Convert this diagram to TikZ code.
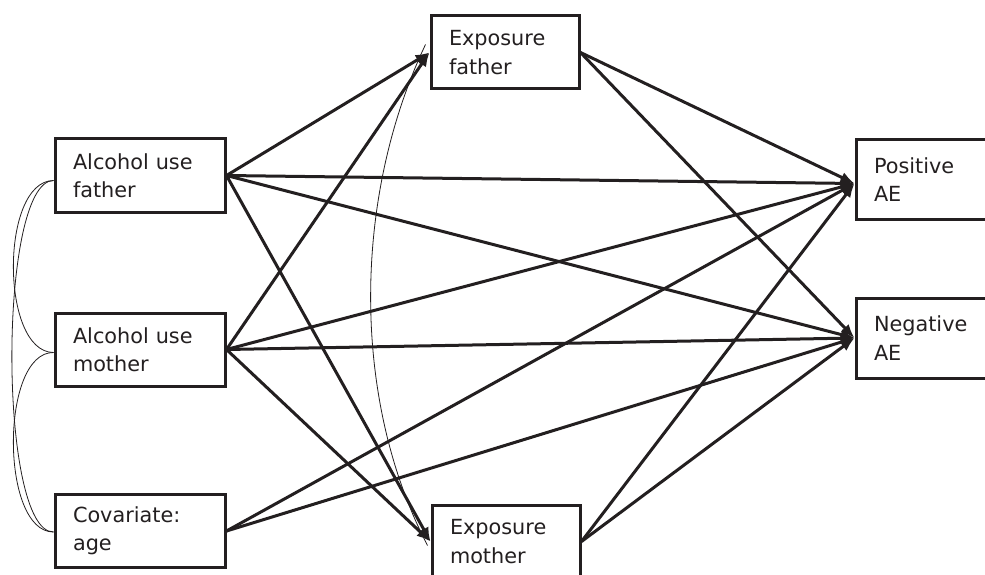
\documentclass[tikz,border=0pt]{standalone}
\usepackage{fontspec}
\setmainfont{DejaVu Sans}
\usetikzlibrary{arrows.meta}
\definecolor{ink}{HTML}{231F20}
\tikzset{
  box/.style={draw=ink, text=ink, line width=3pt, minimum height=73pt, inner xsep=18pt, inner ysep=0pt,
    align=left, font=\fontsize{20.8}{28.5}\selectfont},
  wbox/.style={box, minimum width=170pt, text width=134pt},
  nbox/.style={box, minimum width=148pt, text width=112pt},
  path/.style={draw=ink, line width=3pt, -{Latex[length=14pt,width=11pt]}},
  cov/.style={draw=ink, line width=0.8pt}
}
\begin{document}
\begin{tikzpicture}[x=1pt,y=-1pt]
\useasboundingbox (0,0) rectangle (985,575);
\clip (0,0) rectangle (985,575);
\node[wbox] (af) at (140,175.5) {\raisebox{-2pt}{\parbox{134pt}{Alcohol use\\father}}};
\node[wbox] (am) at (140,349.5) {\raisebox{-2pt}{\parbox{134pt}{Alcohol use\\mother}}};
\node[wbox] (cv) at (140,531) {\raisebox{-2pt}{\parbox{134pt}{Covariate:\\age}}};
\node[nbox] (ef) at (505,52.5) {\raisebox{-2pt}{\parbox{112pt}{Exposure\\father}}};
\node[nbox] (em) at (506,541.5) {\raisebox{-2pt}{\parbox{112pt}{Exposure\\mother}}};
\node[wbox, minimum height=79pt] (pos) at (941,179.5) {Positive\\AE};
\node[wbox, minimum height=80pt] (neg) at (941,338) {Negative\\AE};
\coordinate (posin) at ([yshift=-4pt]pos.west);
\coordinate (negin) at (neg.west);
% covariances
\draw[cov] ([yshift=-5pt]af.west) .. controls (0,181) and (0,352) .. ([yshift=-3pt]am.west);
\draw[cov] ([yshift=-5pt]af.west) .. controls (-2,181) and (-2,532) .. ([yshift=-1pt]cv.west);
\draw[cov] ([yshift=-3pt]am.west) .. controls (0,352) and (0,532) .. ([yshift=-1pt]cv.west);
\draw[cov] ([xshift=-4pt,yshift=8pt]ef.west) .. controls (352,200) and (352,400) .. ([xshift=-3pt,yshift=-4pt]em.west);
% paths
\foreach \s in {af,am}{
  \draw[path] (\s.east) -- (ef.west);
  \draw[path] (\s.east) -- (em.west);
  \draw[path] (\s.east) -- (posin);
  \draw[path] (\s.east) -- (negin);
}
\draw[path] (cv.east) -- (posin);
\draw[path] (cv.east) -- (negin);
\foreach \s in {ef,em}{
  \draw[path] (\s.east) -- (posin);
  \draw[path] (\s.east) -- (negin);
}
\end{tikzpicture}
\end{document}
